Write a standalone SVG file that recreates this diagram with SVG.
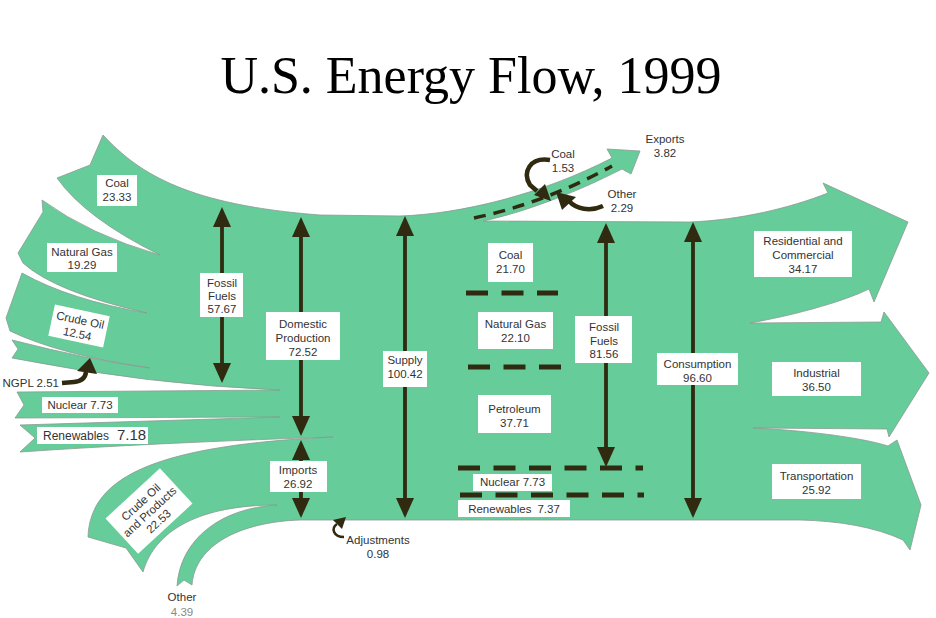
<svg xmlns="http://www.w3.org/2000/svg" xmlns:xlink="http://www.w3.org/1999/xlink" width="936" height="618" viewBox="0 0 936 618">
<style>
.body{fill:#66CC99;stroke:#8a9a92;stroke-width:0.8;stroke-linejoin:miter}
.box{fill:#ffffff}
.t{font-family:"Liberation Sans",Arial,sans-serif;font-size:11.5px;fill:#333333;text-anchor:middle}
.ar{stroke:#2f2a10;stroke-width:3.8;fill:none}
.ah{fill:#2f2a10}
.dash{stroke:#2f2a10;stroke-width:5;fill:none;stroke-dasharray:22 13.5}
.cv{stroke:#2f2a10;stroke-width:4.5;fill:none}
.title{font-family:"Liberation Serif","Times New Roman",serif;font-size:52px;fill:#000;text-anchor:middle}
</style>
<defs>
<path id="hu" d="M0,0 L-9,20 L9,20 Z"/>
<path id="hd" d="M0,0 L-9,-20 L9,-20 Z"/>
</defs>
<rect width="936" height="618" fill="#ffffff"/>
<text class="title" x="471" y="93">U.S. Energy Flow, 1999</text>

<g id="flow-body">
<path class="body" d="M103,135 C140,175 190,205 320,215 L400,216 C460,214 540,195 612,158 L607,149 L640,151 L631,174 L622,169 C575,193 525,212 483,221 L690,222 C740,220 790,208 828,193 L823,183 L908,222 L874,302 L869,289 C840,303 790,316 750,323 L881,322 L884,312 L929,373 L889,437 L887,429 L753,428 C800,430 860,437 888,446 L897,440 L921,505 L910,550 L903,540 C875,527 840,521 800,520 L300,520 C240,522 195,545 192,585 L184,580 L177,586 C180,540 220,508 277,505 C200,505 155,530 143,572 L126,548 L88,537 C90,475 160,445 333,437 Q150,443 20,452 L35,438 L20,425 L280,417 L15,418 L24,405 L17,392 L280,390 Q150,385 12,358 L18,349 L12,340 Q90,360 150,368 Q60,355 10,331 L6,318 L22,273 Q70,300 147,313 Q55,292 23,263 L18,253 L43,212 L42,200 Q90,235 160,255 Q85,218 57,178 L90,165 Z"/>
</g>

<g id="connectors">
<line class="ar" x1="222" y1="225" x2="222" y2="365"/>
<use class="ah" href="#hu" x="222" y="207"/><use class="ah" href="#hd" x="222" y="383"/>
<line class="ar" x1="301" y1="235" x2="301" y2="418"/>
<use class="ah" href="#hu" x="301" y="217"/><use class="ah" href="#hd" x="301" y="436"/>
<line class="ar" x1="301" y1="458" x2="301" y2="500"/>
<use class="ah" href="#hu" x="301" y="440"/><use class="ah" href="#hd" x="301" y="518"/>
<line class="ar" x1="405" y1="234" x2="405" y2="500"/>
<use class="ah" href="#hu" x="405" y="216"/><use class="ah" href="#hd" x="405" y="518"/>
<line class="ar" x1="606" y1="241" x2="606" y2="449"/>
<use class="ah" href="#hu" x="606" y="223"/><use class="ah" href="#hd" x="606" y="467"/>
<line class="ar" x1="693" y1="240" x2="693" y2="500"/>
<use class="ah" href="#hu" x="693" y="222"/><use class="ah" href="#hd" x="693" y="518"/>

<line class="dash" x1="466" y1="293" x2="558" y2="293"/>
<line class="dash" x1="468" y1="367" x2="561" y2="367"/>
<line class="dash" x1="458" y1="468" x2="643" y2="468"/>
<line class="dash" x1="460" y1="495" x2="644" y2="495"/>
<path class="dash" style="stroke-width:3.5;stroke-dasharray:12 8" d="M474,218 Q545,203 612,166"/>

<path class="cv" d="M62,383 L74,382 Q85,381 86,372"/>
<polygon class="ah" points="77,371 90,358 97,374"/>
<path class="cv" d="M550,160 C530,157 522,172 530,185 L537,191"/>
<polygon class="ah" points="551,201 545,184 534,195"/>
<path class="cv" d="M603,206 C590,212 576,209 569,201"/>
<polygon class="ah" points="556,192 562,210 576,197"/>
<path class="cv" style="stroke-width:2.5" d="M344,537 C333,537 331,528 337,524"/>
<polygon class="ah" points="346,517 333,520 342,529"/>
</g>

<g id="coal-in"><rect class="box" x="97" y="175" width="40" height="31"/><text class="t" x="117" y="187">Coal</text><text class="t" x="117" y="201">23.33</text></g>
<g id="gas-in"><rect class="box" x="47" y="243" width="70" height="29"/><text class="t" x="82" y="256">Natural Gas</text><text class="t" x="82" y="269">19.29</text></g>
<g id="crude-in" transform="translate(79,326) rotate(12)"><rect class="box" x="-28" y="-16" width="56" height="32"/><text class="t" x="0" y="-2">Crude Oil</text><text class="t" x="0" y="12">12.54</text></g>
<g id="ngpl"><text class="t" style="text-anchor:end" x="59" y="387">NGPL 2.51</text></g>
<g id="nuclear-in"><rect class="box" x="42" y="397" width="76" height="16"/><text class="t" x="80" y="409">Nuclear 7.73</text></g>
<g id="renew-in"><rect class="box" x="37" y="427" width="111" height="17"/><text class="t" style="text-anchor:start;font-size:12px" x="43" y="440">Renewables</text><text class="t" style="text-anchor:start;font-size:15px" x="117" y="440">7.18</text></g>
<g id="crude-imports" transform="translate(149,511) rotate(-42.7)"><rect class="box" x="-37" y="-24" width="74" height="48"/><text class="t" x="0" y="-8">Crude Oil</text><text class="t" x="0" y="5">and Products</text><text class="t" x="0" y="18">22.53</text></g>
<g id="other-imports"><text class="t" x="182" y="601">Other</text><text class="t" style="fill:#888888" x="182" y="616">4.39</text></g>

<g id="fossil-prod"><rect class="box" x="200" y="273" width="43" height="44"/><text class="t" x="222" y="287">Fossil</text><text class="t" x="222" y="300">Fuels</text><text class="t" x="222" y="313">57.67</text></g>
<g id="domestic"><rect class="box" x="266" y="312" width="74" height="48"/><text class="t" x="303" y="328">Domestic</text><text class="t" x="303" y="342">Production</text><text class="t" x="303" y="356">72.52</text></g>
<g id="imports"><rect class="box" x="270" y="461" width="57" height="31"/><text class="t" x="298" y="474">Imports</text><text class="t" x="298" y="488">26.92</text></g>
<g id="supply"><rect class="box" x="383" y="351" width="44" height="36"/><text class="t" x="405" y="364">Supply</text><text class="t" x="405" y="378">100.42</text></g>
<g id="adjustments"><text class="t" x="378" y="544">Adjustments</text><text class="t" x="378" y="558">0.98</text></g>

<g id="exports"><text class="t" x="665" y="143">Exports</text><text class="t" x="665" y="157">3.82</text></g>
<g id="coal-exp"><text class="t" x="563" y="158">Coal</text><text class="t" x="563" y="172">1.53</text></g>
<g id="other-exp"><text class="t" x="622" y="198">Other</text><text class="t" x="622" y="212">2.29</text></g>

<g id="coal-use"><rect class="box" x="488" y="243" width="45" height="39"/><text class="t" x="510.5" y="259">Coal</text><text class="t" x="510.5" y="273">21.70</text></g>
<g id="gas-use"><rect class="box" x="478" y="312" width="75" height="37"/><text class="t" x="515.5" y="328">Natural Gas</text><text class="t" x="515.5" y="342">22.10</text></g>
<g id="petroleum"><rect class="box" x="478" y="395" width="73" height="38"/><text class="t" x="514.5" y="413">Petroleum</text><text class="t" x="514.5" y="427">37.71</text></g>
<g id="nuclear-use"><rect class="box" x="473" y="474" width="79" height="17"/><text class="t" x="512.5" y="486">Nuclear 7.73</text></g>
<g id="renew-use"><rect class="box" x="458" y="500" width="112" height="17"/><text class="t" x="514" y="513">Renewables<tspan dx="6">7.37</tspan></text></g>
<g id="fossil-use"><rect class="box" x="575" y="316" width="57" height="47"/><text class="t" x="604" y="331">Fossil</text><text class="t" x="604" y="345">Fuels</text><text class="t" x="604" y="358">81.56</text></g>
<g id="consumption"><rect class="box" x="657" y="353" width="81" height="32"/><text class="t" x="697.5" y="368">Consumption</text><text class="t" x="697.5" y="382">96.60</text></g>

<g id="residential"><rect class="box" x="754" y="231" width="98" height="46"/><text class="t" x="803" y="245">Residential and</text><text class="t" x="803" y="259">Commercial</text><text class="t" x="803" y="273">34.17</text></g>
<g id="industrial"><rect class="box" x="772" y="362" width="89" height="34"/><text class="t" x="816.5" y="377">Industrial</text><text class="t" x="816.5" y="391">36.50</text></g>
<g id="transportation"><rect class="box" x="772" y="464" width="89" height="35"/><text class="t" x="816.5" y="480">Transportation</text><text class="t" x="816.5" y="494">25.92</text></g>
</svg>
